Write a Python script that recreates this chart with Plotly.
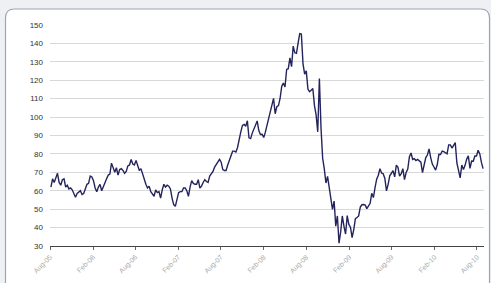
import plotly.graph_objects as go
import pandas as pd

# Weekly (Friday) values, Aug 2005 - Aug 2010
prices = [
    # 2005 Aug-Dec
    62, 66.5, 64.5, 67,
    69.5, 64.5, 63, 66, 66.5,
    62, 63, 61, 61.5,
    60.5, 58, 56.5, 58.5,
    59.5, 60, 58, 58.5, 61,
    # 2006
    63.5, 64, 68, 67.5,
    65.5, 61.5, 59.5, 62,
    63.5, 60, 62.5, 64.5, 66.5,
    68.5, 69, 75, 72,
    70, 72.5, 68.5, 71.5,
    72, 71, 69.5, 70.5, 73.5,
    74, 77, 74.5, 74,
    76.5, 74, 71, 72,
    69, 66, 63.5, 61.5, 62.5,
    59.5, 58.5, 57, 60.5,
    59, 59.5, 56, 60.5,
    63.5, 62, 63, 62.5, 61,
    # 2007
    56, 52.5, 51.5, 55.5,
    59, 59.5, 59.5, 61.5,
    61.5, 60, 57, 62, 65.5,
    64, 63.5, 63.5, 66,
    61.5, 62.5, 64.5, 66,
    65, 64.5, 68, 69, 70.5,
    72.8, 74, 75.6, 77,
    75.5, 71.5, 71, 71, 74,
    76.5, 80, 81.5, 81.5,
    81, 83.5, 88.5, 92,
    95.5, 96, 95, 98, 88.7,
    88.3, 91.3, 93.3, 96,
    # 2008
    97.9, 92.7, 90.6, 90.7,
    88.9, 91.8, 95.5, 98.8, 101.8,
    105.5, 110.2, 101.8, 105.6,
    106.2, 110.1, 116.7, 118.5,
    116.3, 125.9, 126.3, 132.2, 127.4,
    138.5, 134.9, 134.6, 140.2,
    145.3, 145.1, 128.9, 123.3,
    125.1, 115.2, 113.8, 114.6, 115.5,
    106.2, 101.2, 92, 121,
    93.9, 77.7, 71.9, 64.2, 67.8,
    61.8, 57, 49.9, 54.4,
    40.8, 46.3, 31.5, 37.7,
    # 2009
    46.3, 40.8, 36.5, 46.5, 41.7,
    40.2, 34.5, 38.9, 44.8,
    45.5, 46.3, 51.1, 52.4,
    52.5, 52.2, 50.3, 51.6,
    53.2, 58.6, 56.3, 61.7, 66.3,
    68.4, 72.0, 69.6, 69.2,
    66.7, 59.9, 63.5, 68.1, 69.5,
    70.9, 67.5, 73.9, 72.7,
    68.0, 69.3, 72.0, 66.0,
    69.9, 71.8, 78.5, 80.5, 77.0,
    77.4, 76.4, 77.0, 76.1,
    75.5, 69.9, 73.4, 78.0,
    # 2010 Jan-Aug
    79.4, 82.7, 78.0, 74.5, 72.9,
    71.2, 74.1, 79.8, 79.7,
    81.5, 81.2, 80.7, 80.0,
    84.9, 84.9, 83.2, 85.1, 86.1,
    75.1, 71.6, 67.0, 74.0,
    71.5, 73.8, 77.2, 78.9,
    72.1, 76.1, 76.0, 78.9, 78.9,
    82.0, 80.0, 75.4, 72.0,
]
dates = pd.date_range("2005-08-05", periods=len(prices), freq="W-FRI")

tick_dates = ["2005-08-01", "2006-02-01", "2006-08-01", "2007-02-01", "2007-08-01",
              "2008-02-01", "2008-08-01", "2009-02-01", "2009-08-01", "2010-02-01",
              "2010-08-01"]
tick_labels = ["Aug-05", "Feb-06", "Aug-06", "Feb-07", "Aug-07", "Feb-08",
               "Aug-08", "Feb-09", "Aug-09", "Feb-10", "Aug-10"]
y_ticks = list(range(30, 151, 10))

fig = go.Figure()
fig.add_trace(go.Scatter(x=dates, y=prices, mode="lines",
                         line=dict(color="#24245c", width=1.4),
                         hoverinfo="skip", showlegend=False))

# panel geometry (pixels -> paper)
W, H = 491, 283
ml, mr, mt, mb = 50, 7, 25, 37
pw, ph = W - ml - mr, H - mt - mb
def px(x): return (x - ml) / pw
def py(y): return (H - mb - y) / ph
x0, x1, y0, y1 = px(5.5), px(489.5), py(9), py(300)
rx, ry = 9 / pw, 9 / ph
path = (f"M {x0},{y1} L {x0},{y0 - ry} Q {x0},{y0} {x0 + rx},{y0} "
        f"L {x1 - rx},{y0} Q {x1},{y0} {x1},{y0 - ry} L {x1},{y1}")

fig.update_layout(
    width=W, height=H,
    margin=dict(l=ml, r=mr, t=mt, b=mb, autoexpand=False),
    paper_bgcolor="#eef0f4",
    plot_bgcolor="rgba(0,0,0,0)",
    font=dict(family="Liberation Sans, Arial, sans-serif", color="#333333"),
    shapes=[dict(type="path", path=path, xref="paper", yref="paper",
                 fillcolor="#ffffff", line=dict(color="#9ca4b6", width=1.2),
                 layer="below")],
    xaxis=dict(range=["2005-08-01", "2010-08-31"], tickvals=tick_dates,
               ticktext=tick_labels, tickangle=-45, automargin=False,
               tickfont=dict(size=7, color="#aaaaaa"),
               showgrid=False, showline=True, linecolor="#444444", linewidth=1.3,
               ticks="outside", ticklen=3, tickcolor="#666666", zeroline=False),
    yaxis=dict(range=[30, 150], tickvals=y_ticks, automargin=False,
               tickfont=dict(size=8, color="#333333"),
               showgrid=True, gridcolor="#d8d8d8", gridwidth=1,
               showline=False, zeroline=False, ticks="", ticklabelstandoff=6),
)

fig.write_html("out.html", config={"staticPlot": True},
               post_script="document.body.style.margin='0';document.body.style.overflow='hidden';")
